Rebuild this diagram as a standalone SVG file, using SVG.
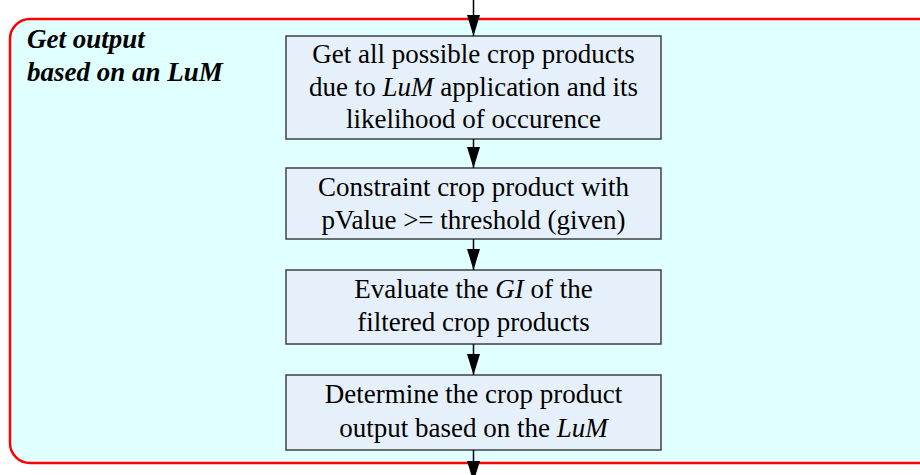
<svg xmlns="http://www.w3.org/2000/svg" width="920" height="475" viewBox="0 0 920 475">
<defs>
<marker id="ah" markerWidth="21" markerHeight="13" refX="21" refY="6.5" orient="auto" markerUnits="userSpaceOnUse" viewBox="0 0 21 13">
<path d="M0,0 L21,6.5 L0,13 Z" fill="#000"/>
</marker>
<style>
.box{fill:#E6F0FA;stroke:#404040;stroke-width:1.5}
.t{font-family:"Liberation Serif","Times New Roman",serif;font-size:27px;fill:#000;text-anchor:middle}
.i{font-style:italic}
.title{font-family:"Liberation Serif","Times New Roman",serif;font-size:27px;font-weight:bold;font-style:italic;fill:#000}
.c{stroke:#000;stroke-width:1.5;fill:none;marker-end:url(#ah)}
</style>
</defs>
<rect x="10" y="19" width="940" height="444" rx="20" ry="20" fill="#E0FFFF" stroke="#FF0000" stroke-width="2.5"/>
<text class="title" x="27" y="48">Get output</text>
<text class="title" x="27" y="81">based on an LuM</text>
<g id="n1">
<rect class="box" x="286" y="36" width="375" height="103"/>
<text class="t" x="473.5" y="63">Get all possible crop products</text>
<text class="t" x="473.5" y="96">due to <tspan class="i">LuM</tspan> application and its</text>
<text class="t" x="473.5" y="128">likelihood of occurence</text>
</g>
<g id="n2">
<rect class="box" x="286" y="168" width="375" height="71"/>
<text class="t" x="473.5" y="196">Constraint crop product with</text>
<text class="t" x="473.5" y="229">pValue &gt;= threshold (given)</text>
</g>
<g id="n3">
<rect class="box" x="286" y="270" width="375" height="74"/>
<text class="t" x="473.5" y="298">Evaluate the <tspan class="i">GI</tspan> of the</text>
<text class="t" x="473.5" y="331">filtered crop products</text>
</g>
<g id="n4">
<rect class="box" x="286" y="375" width="375" height="75"/>
<text class="t" x="473.5" y="403">Determine the crop product</text>
<text class="t" x="473.5" y="437">output based on the <tspan class="i">LuM</tspan></text>
</g>
<g id="connectors">
<line class="c" x1="473.5" y1="0" x2="473.5" y2="36"/>
<line class="c" x1="473.5" y1="139" x2="473.5" y2="168"/>
<line class="c" x1="473.5" y1="239" x2="473.5" y2="270"/>
<line class="c" x1="473.5" y1="344" x2="473.5" y2="375"/>
<line class="c" x1="473.5" y1="450" x2="473.5" y2="482"/>
</g>
</svg>
